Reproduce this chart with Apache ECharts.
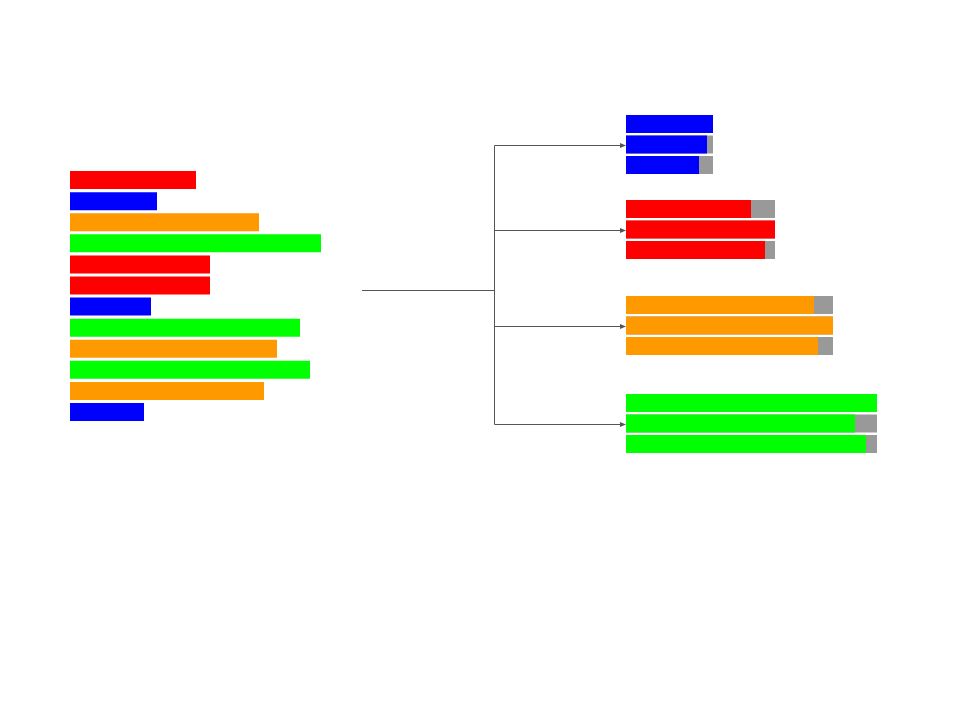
<!DOCTYPE html>
<html>
<head>
<meta charset="utf-8">
<script src="https://cdn.jsdelivr.net/npm/echarts@6/dist/echarts.min.js"></script>
<style>
    html, body { margin: 0; padding: 0; background: #fff; }
    #chart { width: 960px; height: 720px; }
</style>
</head>
<body>
<div id="chart"></div>
<script>
// Left list of bars (top to bottom)
const leftCats = ['1', '2', '3', '4', '5', '6', '7', '8', '9', '10', '11', '12'];
const leftColors = ['red', 'blue', 'orange', 'green', 'red', 'red', 'blue', 'green', 'orange', 'green', 'orange', 'blue'];
const leftValues = [50.4, 34.8, 75.6, 100.4, 56, 56, 32.4, 92, 82.8, 96, 77.6, 29.6];

// Right groups, three bars each
const groupNames = ['blue', 'red', 'orange', 'green'];
const groupCats = ['a', 'b', 'c'];
const blueValues = [34.8, 32.4, 29.2];
const redValues = [50, 59.6, 55.6];
const orangeValues = [75.2, 82.8, 76.8];
const greenValues = [100.4, 91.6, 96];

const palette = { red: '#ff0000', blue: '#0000ff', orange: '#ff9900', green: '#00ff00' };
const greyColor = '#999999';
const lineColor = '#555555';

const groupValues = [blueValues, redValues, orangeValues, greenValues];
const groupTops = [113.75, 198.75, 294.75, 392.75];
const axisMax = 100.4;

const chart = echarts.init(document.getElementById('chart'));

function hiddenValueAxis(gridIndex) {
    return {
        type: 'value', gridIndex: gridIndex, min: 0, max: axisMax,
        axisLine: { show: false }, axisTick: { show: false },
        axisLabel: { show: false }, splitLine: { show: false }
    };
}
function hiddenCatAxis(gridIndex, data) {
    return {
        type: 'category', gridIndex: gridIndex, data: data, inverse: true,
        axisLine: { show: false }, axisTick: { show: false },
        axisLabel: { show: false }, splitLine: { show: false }
    };
}

const grids = [{ left: 70, top: 169.5, width: 251, height: 253 }];
const xAxes = [hiddenValueAxis(0)];
const yAxes = [hiddenCatAxis(0, leftCats)];
const series = [{
    type: 'bar',
    xAxisIndex: 0,
    yAxisIndex: 0,
    barWidth: 18,
    silent: true,
    data: leftValues.map((v, i) => ({ value: v, itemStyle: { color: palette[leftColors[i]] } }))
}];

groupNames.forEach((name, g) => {
    const idx = g + 1;
    const vals = groupValues[g];
    const maxVal = Math.max.apply(null, vals);
    grids.push({ left: 626, top: groupTops[g], width: 251, height: 61.5 });
    xAxes.push(hiddenValueAxis(idx));
    yAxes.push(hiddenCatAxis(idx, groupCats));
    series.push({
        type: 'bar', xAxisIndex: idx, yAxisIndex: idx, barWidth: 18, barGap: '-100%', silent: true,
        itemStyle: { color: greyColor },
        data: vals.map(() => maxVal)
    });
    series.push({
        type: 'bar', xAxisIndex: idx, yAxisIndex: idx, barWidth: 18, barGap: '-100%', silent: true,
        itemStyle: { color: palette[name] },
        data: vals
    });
});

chart.setOption({
    animation: false,
    grid: grids,
    xAxis: xAxes,
    yAxis: yAxes,
    series: series
});

// Connector lines from the list to the middle bar of each group
const trunkStartX = 362;
const trunkX = 494.5;
const trunkY = 290.5;
const branchEndX = 626;
const branchYs = groupNames.map((n, g) => chart.convertToPixel({ yAxisIndex: g + 1 }, groupCats[1]) + 1);

const graphics = [
    { type: 'line', shape: { x1: trunkStartX, y1: trunkY, x2: trunkX, y2: trunkY }, style: { stroke: lineColor, lineWidth: 1 } },
    { type: 'line', shape: { x1: trunkX, y1: branchYs[0], x2: trunkX, y2: branchYs[branchYs.length - 1] }, style: { stroke: lineColor, lineWidth: 1 } }
];
branchYs.forEach(y => {
    graphics.push({ type: 'line', shape: { x1: trunkX, y1: y, x2: branchEndX - 5, y2: y }, style: { stroke: lineColor, lineWidth: 1 } });
    graphics.push({ type: 'polygon', shape: { points: [[branchEndX - 6, y - 2.5], [branchEndX, y], [branchEndX - 6, y + 2.5]] }, style: { fill: lineColor } });
});
chart.setOption({ graphic: graphics });
</script>
</body>
</html>
